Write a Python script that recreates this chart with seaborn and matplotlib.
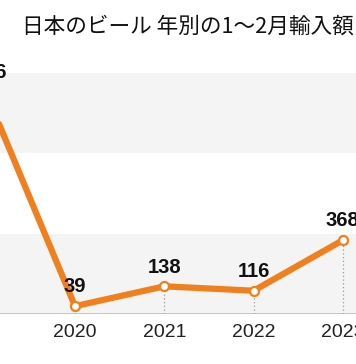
import matplotlib
matplotlib.use("Agg")
import matplotlib.pyplot as plt
import seaborn as sns
import pandas as pd

# ── data ─────────────────────────────────────────────────────────────────────
years = [2019, 2020, 2021, 2022, 2023]
imports = [1106, 39, 138, 116, 368]          # 1~2月輸入額
tick_years = [2020, 2021, 2022, 2023]
title = "日本のビール 年別の1～2月輸入額"

ORANGE = "#f07f1d"
BAND = "#f4f4f4"

sns.set_theme(style="white")
plt.rcParams["font.family"] = ["Liberation Sans", "DejaVu Sans"]

df = pd.DataFrame({"year": years, "value": imports})

fig = plt.figure(figsize=(3.56, 3.64), dpi=100)
ax = fig.add_axes([0, 50 / 364, 1, 254 / 364])

# background bands
ax.axhspan(0, 400, color=BAND, zorder=0, lw=0)
ax.axhspan(800, 1200, color=BAND, zorder=0, lw=0)
ax.axhline(0, color="#bdbdbd", lw=1.2, zorder=1)

# dotted drop lines
ax.vlines(df["year"], 0, df["value"], colors="#9a9a9a", linestyles=(0, (1, 2)),
          lw=0.9, zorder=2)

sns.lineplot(data=df, x="year", y="value", color=ORANGE, lw=4.5, ax=ax,
             marker="o", markersize=6.5, markerfacecolor="white",
             markeredgecolor=ORANGE, markeredgewidth=1.6, zorder=3)

for x, v in zip(years, imports):
    ax.annotate(f"{v}", (x, v), xytext=(0, 7), textcoords="offset points",
                ha="center", va="bottom", fontsize=14.5, fontweight="bold",
                color="#111111", annotation_clip=False)

ax.set_xlim(2019.16, 2023.147)
ax.set_ylim(0, 1266)
ax.set_xticks(tick_years)
ax.set_xticklabels([str(y) for y in tick_years], fontsize=14, color="#222222")
ax.set_yticks([])
ax.tick_params(axis="x", length=0, pad=7)
ax.set_xlabel("")
ax.set_ylabel("")
for s in ax.spines.values():
    s.set_visible(False)
ax.set_facecolor("white")

fig.text(22 / 356, 1 - 27 / 364, title, ha="left", va="center", fontsize=15.6,
         color="#111111", family=["Noto Sans CJK JP", "DejaVu Sans"])

fig.savefig("out.png", dpi=100)
